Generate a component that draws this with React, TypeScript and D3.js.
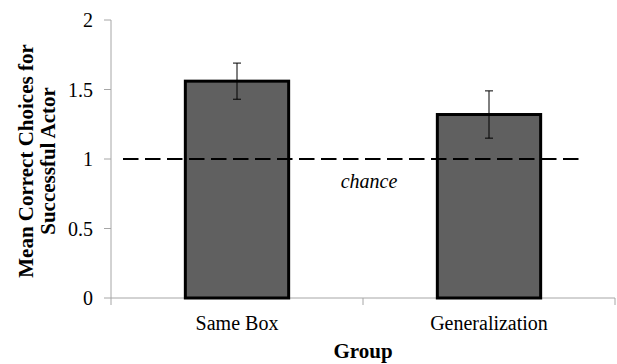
import React, { useEffect, useState } from 'react';
import * as d3 from 'd3';

const groups = ['Same Box', 'Generalization'];
const means = [1.56, 1.32];
const errors = [0.13, 0.17];
const yTicks = [0, 0.5, 1, 1.5, 2];
const chanceLevel = 1;

const width = 617, height = 364;
const left = 111, right = 615, top = 20, bottom = 298;
const axisColor = '#a6a6a6';
const family = '"Liberation Serif", Tinos, "Times New Roman", Times, "DejaVu Serif", serif';
const serif = { fontFamily: family, fontSize: 20 };
const serifBold = { fontFamily: family, fontSize: 21, fontWeight: 'bold' as const };

export default function App() {
  const [ready, setReady] = useState(0);

  // make sure the serif faces are loaded, then draw again
  useEffect(() => {
    const fonts = (document as any).fonts;
    if (!fonts) return;
    Promise.all([
      fonts.load('20px "Liberation Serif"'),
      fonts.load('italic 20px "Liberation Serif"'),
      fonts.load('bold 21px "Liberation Serif"'),
    ]).then(() => setReady(r => r + 1)).catch(() => {});
  }, []);

  const x = d3.scaleBand().domain(groups).range([left, right]).paddingInner(0.59).paddingOuter(0.295);
  const y = d3.scaleLinear().domain([0, 2]).range([bottom, top]);
  const cx = (g: string) => x(g)! + x.bandwidth() / 2;
  const bounds = [left, (left + right) / 2, right];

  return (
    <svg key={ready} width={width} height={height}
      style={{ position: 'absolute', left: 0, top: 0, background: '#fff' }}>
      {/* y axis */}
      <line x1={left} x2={left} y1={top} y2={bottom} stroke={axisColor} />
      {yTicks.map(t => (
        <g key={t}>
          <line x1={left - 7} x2={left} y1={y(t)} y2={y(t)} stroke={axisColor} />
          <text x={left - 18} y={y(t)} dy="0.35em" textAnchor="end" style={serif}>
            {d3.format('')(t)}
          </text>
        </g>
      ))}

      {/* x axis */}
      <line x1={left} x2={right} y1={bottom} y2={bottom} stroke={axisColor} />
      {bounds.map(b => (
        <line key={b} x1={b} x2={b} y1={bottom} y2={bottom + 7} stroke={axisColor} />
      ))}
      {groups.map(g => (
        <text key={g} x={cx(g)} y={330} textAnchor="middle" style={serif}>{g}</text>
      ))}

      {/* bars */}
      {groups.map((g, i) => (
        <rect key={g} x={x(g)} y={y(means[i])} width={x.bandwidth()} height={bottom - y(means[i])}
          fill="#606060" stroke="#000" strokeWidth={3} />
      ))}

      {/* chance line */}
      <line x1={123} x2={580} y1={y(chanceLevel)} y2={y(chanceLevel)}
        stroke="#000" strokeWidth={2} strokeDasharray="15.5,6.5" />

      {/* error bars */}
      {groups.map((g, i) => (
        <g key={g} stroke="#000" strokeWidth={1}>
          <line x1={cx(g)} x2={cx(g)} y1={y(means[i] + errors[i])} y2={y(means[i] - errors[i])} />
          <line x1={cx(g) - 4} x2={cx(g) + 4} y1={y(means[i] + errors[i])} y2={y(means[i] + errors[i])} />
          <line x1={cx(g) - 4} x2={cx(g) + 4} y1={y(means[i] - errors[i])} y2={y(means[i] - errors[i])} />
        </g>
      ))}

      <text x={369} y={188} textAnchor="middle" style={{ ...serif, fontStyle: 'italic' }}>chance</text>

      {/* titles */}
      <text x={363} y={358} textAnchor="middle" style={serifBold}>Group</text>
      <text transform="translate(33,161) rotate(-90)" textAnchor="middle" style={serifBold}>
        <tspan x={0} y={0}>Mean Correct Choices for</tspan>
        <tspan x={0} y={22}>Successful Actor</tspan>
      </text>
    </svg>
  );
}
